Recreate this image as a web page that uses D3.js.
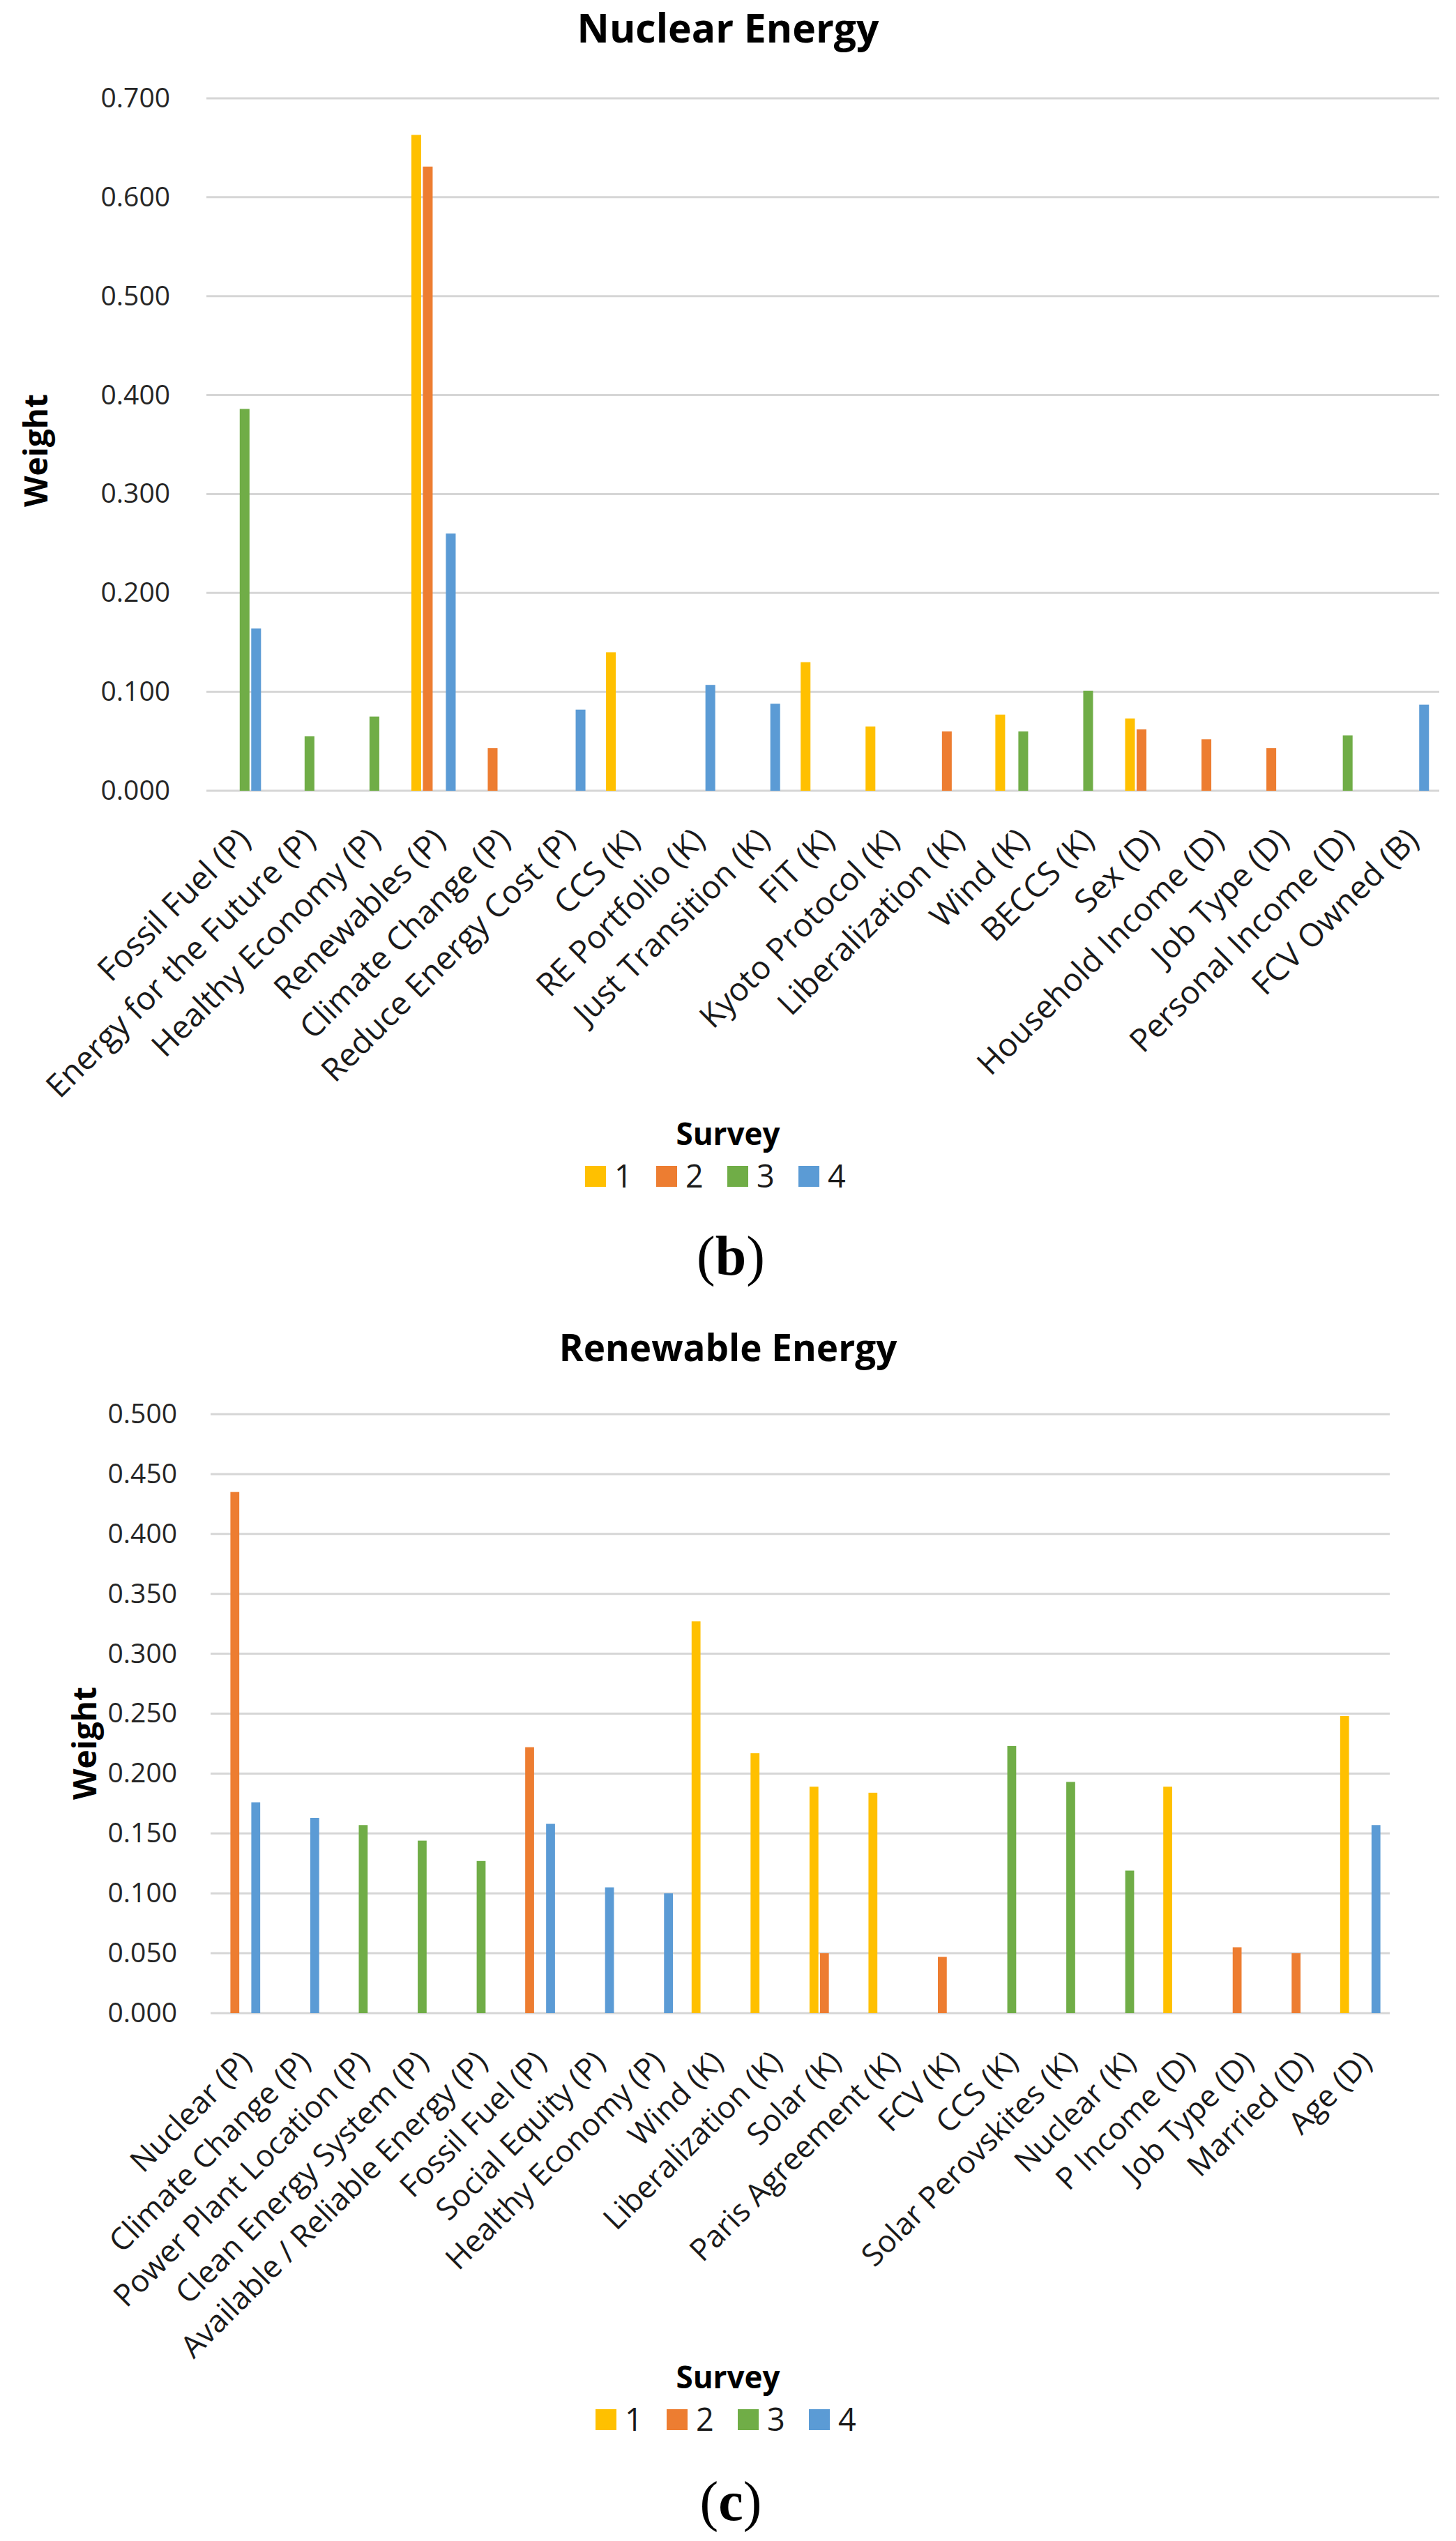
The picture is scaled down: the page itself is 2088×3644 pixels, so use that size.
<!DOCTYPE html>
<html>
<head>
<meta charset="utf-8">
<script src="https://cdn.jsdelivr.net/npm/d3@7"></script>
<style>
  body { margin: 0; background: #fff; }
  text { font-family: "Open Sans", "DejaVu Sans", sans-serif; }
</style>
</head>
<body>
<div id="chart"></div>
<script>
// survey series shared by both panels
var surveys = ["1", "2", "3", "4"];
var surveyColors = ["#FFC000", "#ED7D31", "#70AD47", "#5B9BD5"];

// (b) Nuclear Energy
var nuclearCategories = ["Fossil Fuel (P)", "Energy for the Future (P)", "Healthy Economy (P)", "Renewables (P)",
    "Climate Change (P)", "Reduce Energy Cost (P)", "CCS (K)", "RE Portfolio (K)", "Just Transition (K)", "FIT (K)",
    "Kyoto Protocol (K)", "Liberalization (K)", "Wind (K)", "BECCS (K)", "Sex (D)", "Household Income (D)",
    "Job Type (D)", "Personal Income (D)", "FCV Owned (B)"];
var nuclearS1 = [null, null, null, 0.663, null, null, 0.140, null, null, 0.130, 0.065, null, 0.077, null, 0.073, null, null, null, null];
var nuclearS2 = [null, null, null, 0.631, 0.043, null, null, null, null, null, null, 0.060, null, null, 0.062, 0.052, 0.043, null, null];
var nuclearS3 = [0.386, 0.055, 0.075, null, null, null, null, null, null, null, null, null, 0.060, 0.101, null, null, null, 0.056, null];
var nuclearS4 = [0.164, null, null, 0.260, null, 0.082, null, 0.107, 0.088, null, null, null, null, null, null, null, null, null, 0.087];
var nuclearTicks = [0, 0.1, 0.2, 0.3, 0.4, 0.5, 0.6, 0.7];

// (c) Renewable Energy
var renewCategories = ["Nuclear (P)", "Climate Change (P)", "Power Plant Location (P)", "Clean Energy System (P)",
    "Available / Reliable Energy (P)", "Fossil Fuel (P)", "Social Equity (P)", "Healthy Economy (P)", "Wind (K)",
    "Liberalization (K)", "Solar (K)", "Paris Agreement (K)", "FCV (K)", "CCS (K)", "Solar Perovskites (K)",
    "Nuclear (K)", "P Income (D)", "Job Type (D)", "Married (D)", "Age (D)"];
var renewS1 = [null, null, null, null, null, null, null, null, 0.327, 0.217, 0.189, 0.184, null, null, null, null, 0.189, null, null, 0.248];
var renewS2 = [0.435, null, null, null, null, 0.222, null, null, null, null, 0.050, null, 0.047, null, null, null, null, 0.055, 0.050, null];
var renewS3 = [null, null, 0.157, 0.144, 0.127, null, null, null, null, null, null, null, null, 0.223, 0.193, 0.119, null, null, null, null];
var renewS4 = [0.176, 0.163, null, null, null, 0.158, 0.105, 0.100, null, null, null, null, null, null, null, null, null, null, null, 0.157];
var renewTicks = [0, 0.05, 0.1, 0.15, 0.2, 0.25, 0.3, 0.35, 0.4, 0.45, 0.5];

var W = 2088, H = 3644;

var svg = d3.select("#chart").append("svg")
    .attr("width", W)
    .attr("height", H)
    .style("background", "#fff");

function drawPanel(p) {
    var g = svg.append("g");

    var x0 = d3.scaleBand().domain(p.categories).range([p.left, p.right]);
    var groupW = x0.bandwidth() * 0.683;
    var x1 = d3.scaleBand().domain(surveys).range([0, groupW]).paddingInner(0.15);
    var y = d3.scaleLinear().domain([0, p.max]).range([p.bottom, p.top]);

    // gridlines
    g.selectAll(".grid")
        .data(p.ticks)
        .enter().append("line")
        .attr("x1", p.left).attr("x2", p.right)
        .attr("y1", d => y(d)).attr("y2", d => y(d))
        .attr("stroke", "#d6d6d6")
        .attr("stroke-width", 3);

    // y axis labels
    var yAxis = d3.axisLeft(y).tickValues(p.ticks).tickFormat(d3.format(".3f")).tickSize(0).tickPadding(p.tickPad);
    var ya = g.append("g").attr("transform", "translate(" + p.left + ",0)").call(yAxis);
    ya.select(".domain").remove();
    ya.selectAll("text")
        .style("font-size", "39px")
        .style("font-family", "'Open Sans', sans-serif")
        .attr("fill", "#262626");

    // bars
    var rows = [];
    p.series.forEach(function(vals, si) {
        vals.forEach(function(v, ci) {
            if (v != null) rows.push({ cat: p.categories[ci], s: surveys[si], v: v, color: surveyColors[si] });
        });
    });
    var off = (x0.bandwidth() - groupW) / 2;
    g.selectAll(".bar")
        .data(rows)
        .enter().append("rect")
        .attr("x", d => x0(d.cat) + off + x1(d.s))
        .attr("width", x1.bandwidth())
        .attr("y", d => y(d.v))
        .attr("height", d => y(0) - y(d.v))
        .attr("fill", d => d.color);

    // category labels (rotated)
    g.selectAll(".cat")
        .data(p.categories)
        .enter().append("text")
        .attr("transform", d => "translate(" + (x0(d) + x0.bandwidth() / 2 + 8) + "," + (p.bottom + 62) + ") rotate(-45)")
        .attr("text-anchor", "end")
        .attr("dy", "0.35em")
        .style("font-size", p.labelSize + "px")
        .attr("fill", "#1a1a1a")
        .text(d => d);

    // title
    g.append("text")
        .attr("x", 1044).attr("y", p.titleY)
        .attr("text-anchor", "middle")
        .style("font-size", p.titleSize + "px")
        .style("font-weight", "bold")
        .attr("fill", "#000")
        .text(p.title);

    // y axis title
    g.append("text")
        .attr("transform", "translate(" + p.weightX + "," + p.weightY + ") rotate(-90)")
        .attr("text-anchor", "middle")
        .attr("dy", "0.35em")
        .style("font-size", "46px")
        .style("font-weight", "bold")
        .attr("fill", "#000")
        .text("Weight");

    // legend
    g.append("text")
        .attr("x", 1044).attr("y", p.legendY)
        .attr("text-anchor", "middle")
        .style("font-size", "44px")
        .style("font-weight", "bold")
        .attr("fill", "#000")
        .text("Survey");

    var lg = g.selectAll(".leg")
        .data(surveys)
        .enter().append("g")
        .attr("transform", (d, i) => "translate(" + (p.legendX + i * 102) + "," + (p.legendY + 30) + ")");
    lg.append("rect")
        .attr("width", 30).attr("height", 30)
        .attr("fill", (d, i) => surveyColors[i]);
    lg.append("text")
        .attr("x", 42).attr("y", 15)
        .attr("dy", "0.36em")
        .style("font-size", "45px")
        .attr("fill", "#1a1a1a")
        .text(d => d);

    // panel letter
    var pl = g.append("text")
        .attr("x", 1048).attr("y", p.letterY)
        .attr("text-anchor", "middle")
        .style("font-family", "'Liberation Serif', 'DejaVu Serif', serif")
        .style("font-size", "80px")
        .attr("fill", "#000");
    pl.append("tspan").text("(");
    pl.append("tspan").style("font-weight", "bold").text(p.letter);
    pl.append("tspan").text(")");
}

drawPanel({
    title: "Nuclear Energy", letter: "b",
    categories: nuclearCategories,
    series: [nuclearS1, nuclearS2, nuclearS3, nuclearS4],
    ticks: nuclearTicks, max: 0.7,
    left: 296, right: 2064, top: 141, bottom: 1134,
    tickPad: 52, titleY: 61, titleSize: 57, labelSize: 46,
    weightX: 52, weightY: 646,
    legendY: 1642, legendX: 839, letterY: 1828
});

drawPanel({
    title: "Renewable Energy", letter: "c",
    categories: renewCategories,
    series: [renewS1, renewS2, renewS3, renewS4],
    ticks: renewTicks, max: 0.5,
    left: 302, right: 1993, top: 2028, bottom: 2887,
    tickPad: 48, titleY: 1952, titleSize: 53, labelSize: 44,
    weightX: 122, weightY: 2500,
    legendY: 3425, legendX: 854, letterY: 3614
});
</script>
</body>
</html>
